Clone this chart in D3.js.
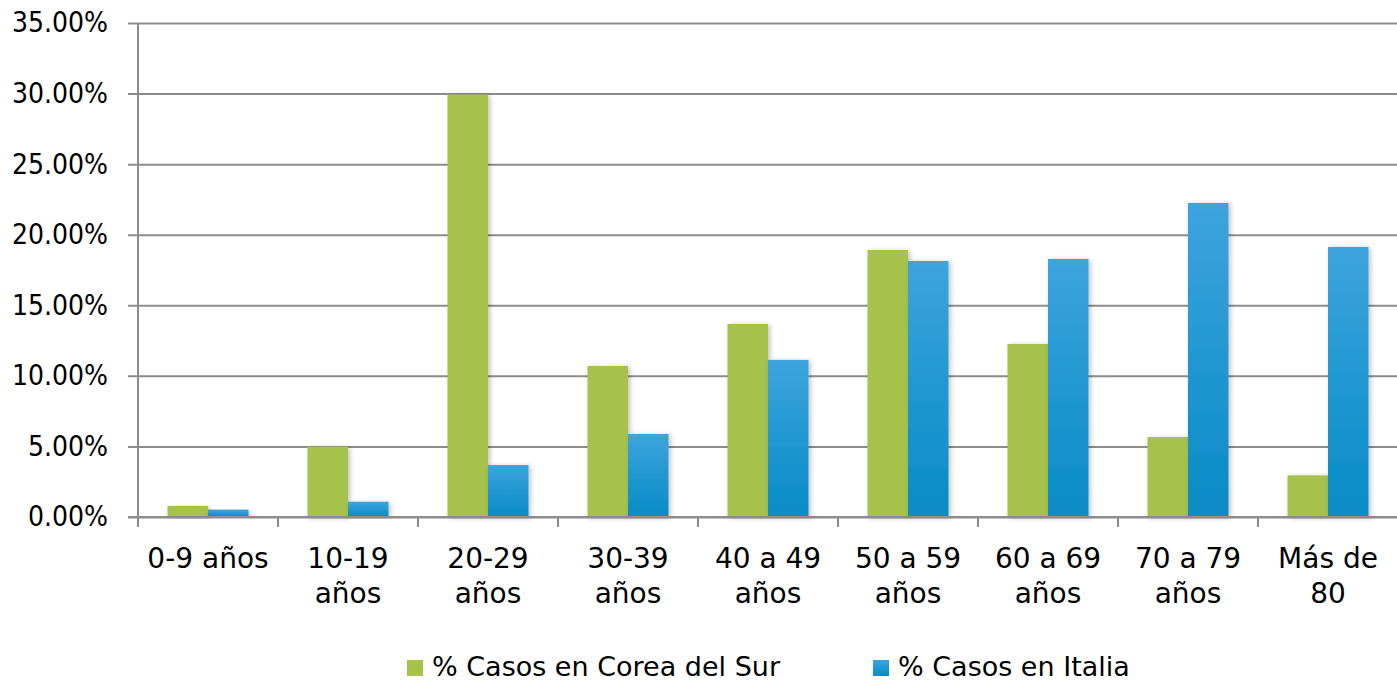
<!DOCTYPE html>
<html lang="es">
<head>
<meta charset="UTF-8">
<title>Casos por edad</title>
<style>
  body { margin: 0; background: #fff; }
  svg { display: block; }
  text { font-family: "DejaVu Sans", sans-serif; fill: #000; }
</style>
</head>
<body>
<svg id="chart" width="1397" height="683"></svg>
<script src="https://d3js.org/d3.v7.min.js"></script>
<script>
// datos
const categories = ["0-9 años", "10-19 años", "20-29 años", "30-39 años", "40 a 49 años",
                    "50 a 59 años", "60 a 69 años", "70 a 79 años", "Más de 80"];
const seriesNames = ["% Casos en Corea del Sur", "% Casos en Italia"];
const corea = [0.0078, 0.0498, 0.2993, 0.1070, 0.1368, 0.1892, 0.1226, 0.0567, 0.0295];
const italia = [0.0052, 0.0108, 0.0368, 0.0588, 0.1113, 0.1814, 0.1828, 0.2225, 0.1913];
const yTicks = [0, 0.05, 0.10, 0.15, 0.20, 0.25, 0.30, 0.35];

const svg = d3.select("#chart");
const plotL = 138, plotR = 1398, plotT = 23, plotB = 517;

const y = d3.scaleLinear().domain([0, 0.35]).range([plotB, plotT]);
const x0 = d3.scaleBand().domain(categories).range([plotL, plotR]).padding(0);
const groupW = 81;
const x1 = d3.scaleBand().domain(seriesNames)
  .range([(x0.bandwidth() - groupW) / 2, (x0.bandwidth() + groupW) / 2]);

// degradado azul + sombra
const defs = svg.append("defs");
const grad = defs.append("linearGradient").attr("id", "blueGrad")
  .attr("x1", 0).attr("y1", 0).attr("x2", 0).attr("y2", 1);
grad.append("stop").attr("offset", "0%").attr("stop-color", "#3da4dd");
grad.append("stop").attr("offset", "100%").attr("stop-color", "#078bc5");
const shadow = defs.append("filter").attr("id", "shadow")
  .attr("x", "-20%").attr("y", "-5%").attr("width", "150%").attr("height", "115%");
shadow.append("feDropShadow").attr("dx", 2).attr("dy", 1).attr("stdDeviation", 2.5)
  .attr("flood-color", "#000").attr("flood-opacity", 0.25);

const colors = { [seriesNames[0]]: "#a6c24b", [seriesNames[1]]: "url(#blueGrad)" };

// eje Y con rejilla
const yAxis = d3.axisLeft(y).tickValues(yTicks).tickFormat(d3.format(".2%"))
  .tickSize(-(1397 - (plotL - 10))).tickPadding(20);
const gy = svg.append("g").attr("transform", `translate(${plotL - 10},0)`).call(yAxis);
gy.select(".domain").remove();
gy.selectAll(".tick line").attr("stroke", "#8c8c8c").attr("stroke-width", 2);
gy.selectAll(".tick text").attr("font-size", 28).attr("fill", "#000")
  .style("font-family", "'DejaVu Sans Condensed', 'DejaVu Sans', sans-serif");

// barras
const data = categories.map((c, i) => ({ cat: c, vals: [corea[i], italia[i]] }));
const groups = svg.append("g").selectAll("g").data(data).join("g")
  .attr("transform", d => `translate(${x0(d.cat)},0)`);
groups.selectAll("rect")
  .data(d => d.vals.map((v, k) => ({ name: seriesNames[k], v })))
  .join("rect")
  .attr("x", d => x1(d.name))
  .attr("width", x1.bandwidth())
  .attr("y", d => y(d.v))
  .attr("height", d => y(0) - y(d.v))
  .attr("fill", d => colors[d.name])
  .attr("filter", "url(#shadow)");

// eje X: línea base, eje vertical y marcas entre categorías
svg.append("line").attr("x1", plotL - 10).attr("x2", 1397)
  .attr("y1", y(0)).attr("y2", y(0)).attr("stroke", "#8c8c8c").attr("stroke-width", 2);
svg.append("line").attr("x1", plotL).attr("x2", plotL)
  .attr("y1", y(0.35)).attr("y2", y(0) + 10).attr("stroke", "#8c8c8c").attr("stroke-width", 2);
svg.append("g").selectAll("line").data(categories.slice(1)).join("line")
  .attr("x1", d => x0(d)).attr("x2", d => x0(d))
  .attr("y1", y(0)).attr("y2", y(0) + 10)
  .attr("stroke", "#8c8c8c").attr("stroke-width", 2);

// etiquetas de categoría con salto de línea
const xl = svg.append("g").selectAll("text").data(categories).join("text")
  .attr("x", d => x0(d) + x0.bandwidth() / 2)
  .attr("y", 568)
  .attr("text-anchor", "middle")
  .attr("font-size", 28);
xl.each(function (d) {
  const t = d3.select(this);
  const words = d.split(" ");
  const maxW = x0.bandwidth() - 8;
  let lines = [], line = [];
  words.forEach(w => {
    line.push(w);
    t.text(line.join(" "));
    if (this.getComputedTextLength() > maxW && line.length > 1) {
      line.pop();
      lines.push(line.join(" "));
      line = [w];
    }
  });
  lines.push(line.join(" "));
  t.text(null);
  lines.forEach((l, i) => {
    t.append("tspan").attr("x", x0(d) + x0.bandwidth() / 2)
      .attr("dy", i === 0 ? 0 : 35).text(l);
  });
});

// leyenda
const legendX = [407, 873];
const lg = svg.append("g").selectAll("g").data(seriesNames).join("g")
  .attr("transform", (d, i) => `translate(${legendX[i]},660)`);
lg.append("rect").attr("width", 16).attr("height", 16)
  .attr("fill", d => d === seriesNames[0] ? "#a6c24b" : "url(#blueGrad)");
lg.append("text").attr("x", 25).attr("y", 16).attr("font-size", 27).text(d => d);
</script>
</body>
</html>
